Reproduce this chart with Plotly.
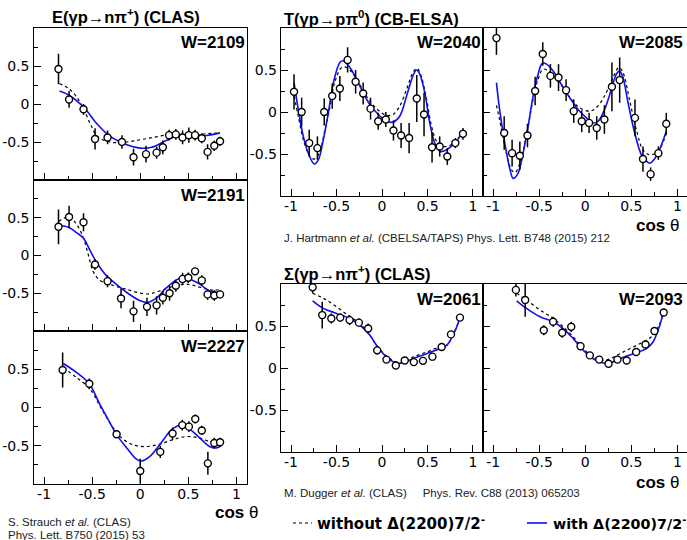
import plotly.graph_objects as go

W, H = 687, 540

# ---------------- E(gamma p -> n pi+) CLAS ----------------
e1_w = "W=2109"
e1_x = [-0.85, -0.74, -0.59, -0.47, -0.34, -0.19, -0.07, 0.06, 0.17, 0.235, 0.30, 0.37, 0.44, 0.505, 0.57, 0.64, 0.70, 0.77, 0.83]
e1_y = [0.46, 0.06, -0.07, -0.46, -0.44, -0.50, -0.70, -0.66, -0.64, -0.57, -0.41, -0.40, -0.44, -0.41, -0.41, -0.45, -0.63, -0.55, -0.49]
e1_err = [0.20, 0.11, 0.07, 0.14, 0.09, 0.09, 0.11, 0.11, 0.08, 0.09, 0.07, 0.07, 0.09, 0.10, 0.07, 0.065, 0.10, 0.07, 0.06]
e1_with_x = [-0.84, -0.74, -0.59, -0.45, -0.32, -0.14, 0.0, 0.12, 0.27, 0.41, 0.55, 0.69, 0.83]
e1_with_y = [0.17, 0.115, -0.04, -0.26, -0.42, -0.535, -0.58, -0.57, -0.48, -0.415, -0.415, -0.415, -0.38]
e1_wo_x = [-0.84, -0.74, -0.66, -0.59, -0.52, -0.45, -0.32, -0.14, 0.0, 0.135, 0.27, 0.41, 0.55, 0.69, 0.83]
e1_wo_y = [0.27, 0.20, 0.09, -0.06, -0.26, -0.42, -0.50, -0.50, -0.47, -0.44, -0.41, -0.415, -0.41, -0.39, -0.38]

e2_w = "W=2191"
e2_x = [-0.85, -0.74, -0.59, -0.47, -0.34, -0.20, -0.07, 0.07, 0.17, 0.235, 0.305, 0.37, 0.44, 0.50, 0.57, 0.64, 0.70, 0.77, 0.83]
e2_y = [0.38, 0.51, 0.44, -0.12, -0.34, -0.57, -0.74, -0.68, -0.66, -0.56, -0.50, -0.40, -0.31, -0.295, -0.21, -0.33, -0.515, -0.53, -0.515]
e2_err = [0.23, 0.15, 0.12, 0.07, 0.08, 0.13, 0.14, 0.12, 0.12, 0.09, 0.10, 0.08, 0.08, 0.07, 0.05, 0.07, 0.07, 0.07, 0.05]
e2_with_x = [-0.85, -0.74, -0.66, -0.59, -0.52, -0.45, -0.35, -0.25, -0.14, 0.0, 0.08, 0.17, 0.27, 0.38, 0.45, 0.53, 0.62, 0.72, 0.83]
e2_with_y = [0.40, 0.37, 0.30, 0.23, 0.06, -0.10, -0.27, -0.38, -0.49, -0.60, -0.62, -0.56, -0.43, -0.32, -0.295, -0.32, -0.38, -0.47, -0.49]
e2_wo_x = [-0.85, -0.74, -0.66, -0.59, -0.54, -0.49, -0.42, -0.32, -0.14, 0.07, 0.20, 0.34, 0.48, 0.62, 0.76, 0.83]
e2_wo_y = [0.45, 0.51, 0.41, 0.23, 0.01, -0.21, -0.33, -0.38, -0.45, -0.51, -0.47, -0.41, -0.38, -0.42, -0.46, -0.45]

e3_w = "W=2227"
e3_x = [-0.807, -0.53, -0.246, 0.0, 0.208, 0.336, 0.437, 0.506, 0.572, 0.64, 0.703, 0.77, 0.83]
e3_y = [0.49, 0.31, -0.35, -0.83, -0.58, -0.34, -0.23, -0.25, -0.15, -0.30, -0.73, -0.465, -0.455]
e3_err = [0.23, 0.07, 0.05, 0.16, 0.08, 0.08, 0.07, 0.07, 0.06, 0.06, 0.15, 0.07, 0.06]
e3_with_x = [-0.80, -0.66, -0.53, -0.42, -0.315, -0.246, -0.14, -0.04, 0.014, 0.10, 0.20, 0.31, 0.38, 0.43, 0.52, 0.62, 0.72, 0.78, 0.83]
e3_with_y = [0.575, 0.455, 0.31, 0.04, -0.20, -0.355, -0.53, -0.675, -0.70, -0.64, -0.49, -0.31, -0.245, -0.235, -0.29, -0.40, -0.51, -0.53, -0.51]
e3_wo_x = [-0.80, -0.66, -0.52, -0.42, -0.315, -0.21, -0.07, 0.066, 0.20, 0.34, 0.48, 0.62, 0.76, 0.83]
e3_wo_y = [0.52, 0.39, 0.24, 0.02, -0.20, -0.38, -0.49, -0.51, -0.48, -0.42, -0.38, -0.40, -0.465, -0.465]

# ---------------- T(gamma p -> p pi0) CB-ELSA ----------------
t1_w = "W=2040"
t1_x = [-0.967, -0.883, -0.80, -0.71, -0.635, -0.547, -0.463, -0.378, -0.29, -0.207, -0.126, -0.042, 0.042, 0.126, 0.21, 0.298, 0.382, 0.462, 0.55, 0.634, 0.718, 0.806, 0.89]
t1_y = [0.24, 0.0, -0.37, -0.43, 0.0, 0.19, 0.28, 0.62, 0.36, 0.22, 0.04, -0.11, -0.09, -0.22, -0.28, -0.31, 0.16, -0.03, -0.42, -0.41, -0.53, -0.37, -0.26]
t1_err = [0.21, 0.17, 0.16, 0.14, 0.16, 0.15, 0.15, 0.15, 0.14, 0.13, 0.13, 0.10, 0.09, 0.12, 0.15, 0.18, 0.28, 0.26, 0.18, 0.12, 0.10, 0.06, 0.07]
t1_with_x = [-0.967, -0.92, -0.865, -0.81, -0.744, -0.70, -0.645, -0.59, -0.534, -0.463, -0.426, -0.353, -0.28, -0.207, -0.134, -0.04, 0.05, 0.12, 0.195, 0.27, 0.34, 0.38, 0.415, 0.47, 0.525, 0.58, 0.64, 0.71, 0.80, 0.89]
t1_with_y = [0.35, 0.03, -0.29, -0.49, -0.62, -0.57, -0.33, -0.01, 0.35, 0.59, 0.61, 0.53, 0.39, 0.23, 0.09, -0.03, -0.11, -0.12, -0.05, 0.19, 0.43, 0.50, 0.45, 0.23, -0.13, -0.37, -0.47, -0.45, -0.37, -0.23]
t1_wo_x = [-0.967, -0.92, -0.865, -0.79, -0.744, -0.69, -0.627, -0.57, -0.52, -0.444, -0.39, -0.316, -0.225, -0.134, -0.04, 0.05, 0.12, 0.195, 0.27, 0.34, 0.385, 0.43, 0.49, 0.545, 0.60, 0.67, 0.76, 0.89]
t1_wo_y = [0.19, -0.05, -0.33, -0.53, -0.56, -0.49, -0.21, 0.07, 0.35, 0.53, 0.53, 0.45, 0.29, 0.13, 0.02, -0.04, -0.03, 0.07, 0.27, 0.47, 0.52, 0.43, 0.15, -0.17, -0.35, -0.41, -0.39, -0.25]

t2_w = "W=2085"
t2_x = [-0.964, -0.88, -0.794, -0.71, -0.627, -0.544, -0.461, -0.378, -0.29, -0.208, -0.125, -0.038, 0.042, 0.125, 0.208, 0.29, 0.374, 0.54, 0.627, 0.71, 0.794, 0.88]
t2_y = [0.88, -0.25, -0.49, -0.52, -0.28, 0.25, 0.69, 0.43, 0.41, 0.26, 0.01, -0.11, -0.13, -0.19, -0.09, 0.30, 0.38, -0.07, -0.56, -0.74, -0.49, -0.14]
t2_err = [0.20, 0.20, 0.16, 0.17, 0.14, 0.17, 0.14, 0.14, 0.16, 0.13, 0.14, 0.13, 0.12, 0.14, 0.17, 0.29, 0.27, 0.22, 0.15, 0.08, 0.08, 0.13]
t2_with_x = [-0.964, -0.93, -0.873, -0.82, -0.783, -0.73, -0.675, -0.62, -0.566, -0.512, -0.465, -0.42, -0.35, -0.26, -0.168, -0.078, 0.013, 0.085, 0.14, 0.21, 0.284, 0.338, 0.374, 0.41, 0.465, 0.537, 0.61, 0.646, 0.70, 0.77, 0.88]
t2_with_y = [0.35, 0.03, -0.37, -0.67, -0.79, -0.73, -0.49, -0.17, 0.19, 0.45, 0.58, 0.57, 0.49, 0.33, 0.17, 0.03, -0.07, -0.13, -0.11, 0.03, 0.27, 0.45, 0.49, 0.41, 0.11, -0.25, -0.51, -0.56, -0.61, -0.53, -0.23]
t2_wo_x = [-0.964, -0.93, -0.873, -0.80, -0.76, -0.71, -0.64, -0.566, -0.512, -0.458, -0.40, -0.33, -0.24, -0.15, -0.06, 0.05, 0.12, 0.21, 0.30, 0.367, 0.41, 0.48, 0.555, 0.627, 0.70, 0.79, 0.88]
t2_wo_y = [0.08, -0.09, -0.41, -0.69, -0.72, -0.61, -0.29, 0.15, 0.39, 0.51, 0.49, 0.41, 0.29, 0.15, 0.05, 0.01, 0.05, 0.19, 0.41, 0.53, 0.47, 0.15, -0.21, -0.45, -0.51, -0.47, -0.25]

# ---------------- Sigma(gamma p -> n pi+) CLAS ----------------
s1_w = "W=2061"
s1_x = [-0.762, -0.657, -0.557, -0.459, -0.356, -0.254, -0.152, -0.053, 0.049, 0.152, 0.25, 0.35, 0.45, 0.554, 0.656, 0.758, 0.857]
s1_y = [0.96, 0.63, 0.59, 0.60, 0.57, 0.54, 0.47, 0.21, 0.10, 0.03, 0.09, 0.07, 0.085, 0.135, 0.25, 0.40, 0.60]
s1_err = [0.07, 0.16, 0.06, 0.05, 0.06, 0.05, 0.06, 0.05, 0.04, 0.04, 0.03, 0.03, 0.03, 0.03, 0.03, 0.03, 0.03]
s1_with_x = [-0.762, -0.645, -0.50, -0.353, -0.243, -0.133, -0.06, 0.05, 0.16, 0.23, 0.34, 0.49, 0.63, 0.71, 0.78, 0.836, 0.86]
s1_with_y = [0.80, 0.71, 0.65, 0.59, 0.51, 0.39, 0.27, 0.13, 0.06, 0.06, 0.11, 0.17, 0.23, 0.27, 0.39, 0.53, 0.63]
s1_wo_x = [-0.762, -0.645, -0.50, -0.353, -0.243, -0.133, -0.06, 0.05, 0.16, 0.23, 0.34, 0.49, 0.63, 0.71, 0.78, 0.86]
s1_wo_y = [0.89, 0.83, 0.73, 0.61, 0.53, 0.39, 0.27, 0.14, 0.07, 0.07, 0.13, 0.19, 0.25, 0.27, 0.39, 0.61]

s2_w = "W=2093"
s2_x = [-0.753, -0.652, -0.45, -0.349, -0.25, -0.152, -0.051, 0.05, 0.152, 0.253, 0.35, 0.45, 0.553, 0.654, 0.752, 0.852]
s2_y = [0.93, 0.81, 0.45, 0.55, 0.42, 0.49, 0.26, 0.15, 0.10, 0.05, 0.10, 0.09, 0.19, 0.28, 0.44, 0.66]
s2_err = [0.08, 0.20, 0.06, 0.06, 0.06, 0.06, 0.05, 0.04, 0.04, 0.03, 0.03, 0.03, 0.03, 0.03, 0.03, 0.03]
s2_with_x = [-0.745, -0.638, -0.49, -0.347, -0.24, -0.13, -0.02, 0.087, 0.196, 0.27, 0.376, 0.52, 0.665, 0.736, 0.81, 0.845]
s2_with_y = [0.80, 0.71, 0.61, 0.55, 0.47, 0.35, 0.21, 0.11, 0.06, 0.06, 0.11, 0.17, 0.23, 0.31, 0.51, 0.65]
s2_wo_x = [-0.745, -0.638, -0.49, -0.347, -0.24, -0.13, -0.02, 0.087, 0.196, 0.27, 0.376, 0.52, 0.665, 0.736, 0.81, 0.845]
s2_wo_y = [0.89, 0.81, 0.69, 0.59, 0.49, 0.37, 0.23, 0.13, 0.09, 0.11, 0.17, 0.25, 0.33, 0.39, 0.53, 0.65]

x_ticks = [-1, -0.5, 0, 0.5, 1]
x_ticktext = ["-1", "-0.5", "0", "0.5", "1"]
y_ticks = [-0.5, 0, 0.5]
y_ticktext = ["-0.5", "0", "0.5"]
minor_ticks = [-0.75, -0.25, 0.25, 0.75]

BLUE = "#1010f0"

# panel pixel boxes: (left, top, right, bottom)
panels = [
    dict(box=(33.5, 28, 247, 180), xr=[-1.11, 1.11], xl=False, yl=True, w=e1_w,
         d=(e1_x, e1_y, e1_err), c1=(e1_wo_x, e1_wo_y), c2=(e1_with_x, e1_with_y)),
    dict(box=(33.5, 180, 247, 331), xr=[-1.11, 1.11], xl=False, yl=True, w=e2_w,
         d=(e2_x, e2_y, e2_err), c1=(e2_wo_x, e2_wo_y), c2=(e2_with_x, e2_with_y)),
    dict(box=(33.5, 331, 247, 484), xr=[-1.11, 1.11], xl=True, yl=True, w=e3_w,
         d=(e3_x, e3_y, e3_err), c1=(e3_wo_x, e3_wo_y), c2=(e3_with_x, e3_with_y)),
    dict(box=(281, 28, 483, 196), xr=[-1.11, 1.11], xl=True, yl=True, w=t1_w,
         d=(t1_x, t1_y, t1_err), c1=(t1_wo_x, t1_wo_y), c2=(t1_with_x, t1_with_y)),
    dict(box=(483, 28, 687, 196), xr=[-1.11, 1.105], xl=True, yl=False, w=t2_w,
         d=(t2_x, t2_y, t2_err), c1=(t2_wo_x, t2_wo_y), c2=(t2_with_x, t2_with_y)),
    dict(box=(281, 284, 483, 452), xr=[-1.11, 1.11], xl=True, yl=True, w=s1_w,
         d=(s1_x, s1_y, s1_err), c1=(s1_wo_x, s1_wo_y), c2=(s1_with_x, s1_with_y)),
    dict(box=(483, 284, 687, 452), xr=[-1.11, 1.105], xl=True, yl=False, w=s2_w,
         d=(s2_x, s2_y, s2_err), c1=(s2_wo_x, s2_wo_y), c2=(s2_with_x, s2_with_y)),
]

fig = go.Figure()
layout = {}
annotations = []
TICKFONT = dict(family="DejaVu Sans", size=14, color="black")

for i, p in enumerate(panels, start=1):
    L, T, R, B = p["box"]
    xa = "x" if i == 1 else f"x{i}"
    ya = "y" if i == 1 else f"y{i}"
    xkey = "xaxis" if i == 1 else f"xaxis{i}"
    ykey = "yaxis" if i == 1 else f"yaxis{i}"
    layout[xkey] = dict(
        domain=[L / W, R / W], range=p["xr"], anchor=ya,
        showgrid=False, zeroline=False, showline=True, mirror=True,
        linecolor="black", linewidth=1.4,
        ticks="inside", ticklen=7, tickwidth=1, tickcolor="black",
        tickmode="array", tickvals=x_ticks, ticktext=x_ticktext,
        showticklabels=p["xl"], tickfont=TICKFONT, ticklabelstandoff=-3,
        minor=dict(ticks="inside", ticklen=4, tickcolor="black", tickmode="array",
                   tickvals=minor_ticks, showgrid=False),
    )
    layout[ykey] = dict(
        domain=[1 - B / H, 1 - T / H], range=[-1.0, 1.0], anchor=xa,
        showgrid=False, zeroline=False, showline=True, mirror=True,
        linecolor="black", linewidth=1.4,
        ticks="inside", ticklen=7, tickwidth=1, tickcolor="black",
        tickmode="array", tickvals=y_ticks, ticktext=y_ticktext,
        showticklabels=p["yl"], tickfont=TICKFONT,
        minor=dict(ticks="inside", ticklen=4, tickcolor="black", tickmode="array",
                   tickvals=minor_ticks, showgrid=False),
    )
    cx, cy = p["c1"]
    fig.add_trace(go.Scatter(x=cx, y=cy, mode="lines", xaxis=xa, yaxis=ya, showlegend=False,
                             line=dict(color="black", width=1.2, dash="dot", shape="spline", smoothing=1.0)))
    cx, cy = p["c2"]
    fig.add_trace(go.Scatter(x=cx, y=cy, mode="lines", xaxis=xa, yaxis=ya, showlegend=False,
                             line=dict(color=BLUE, width=1.6, shape="spline", smoothing=1.0)))
    dx, dy, de = p["d"]
    fig.add_trace(go.Scatter(x=dx, y=dy, mode="markers", xaxis=xa, yaxis=ya, showlegend=False,
                             error_y=dict(type="data", array=de, visible=True, color="black",
                                          thickness=1.5, width=0),
                             marker=dict(symbol="circle", size=7, color="white",
                                         line=dict(color="black", width=1.4))))
    annotations.append(dict(text="<b>" + p["w"] + "</b>", x=(min(R, 685)) / W, y=1 - (T + 15) / H,
                            xref="paper", yref="paper", xanchor="right", yanchor="middle",
                            showarrow=False,
                            font=dict(family="Liberation Sans", size=17, color="black")))

TITLEFONT = dict(family="Liberation Sans", size=16.5, color="black")
SMALL = dict(family="Liberation Sans", size=11.5, color="#222222")

def ann(text, x, y, font, xanchor="left"):
    annotations.append(dict(text=text, x=x / W, y=1 - y / H, xref="paper", yref="paper",
                            xanchor=xanchor, yanchor="middle", showarrow=False, font=font))

ann("<b>E(γp→nπ<sup>+</sup>) (CLAS)</b>", 126, 16, TITLEFONT, "center")
ann("<b>T(γp→pπ<sup>0</sup>) (CB-ELSA)</b>", 282, 18, TITLEFONT)
ann("<b>Σ(γp→nπ<sup>+</sup>) (CLAS)</b>", 282, 273, TITLEFONT)

COSFONT = dict(family="Liberation Sans", size=17, color="black")
ann("<b>cos</b> θ", 260, 512, COSFONT, "right")
ann("<b>cos</b> θ", 681, 225, COSFONT, "right")
ann("<b>cos</b> θ", 681, 482, COSFONT, "right")

ann("J. Hartmann <i>et al.</i> (CBELSA/TAPS) Phys. Lett. B748 (2015) 212", 282, 238, SMALL)
ann("M. Dugger <i>et al.</i> (CLAS)     Phys. Rev. C88 (2013) 065203", 282, 493, SMALL)
ann("S. Strauch <i>et al.</i> (CLAS)", 6, 522, SMALL)
ann("Phys. Lett. B750 (2015) 53", 6, 535, SMALL)

ann("<b>without Δ(2200)7/2<sup>-</sup></b>", 315, 523, dict(family="DejaVu Sans", size=15, color="black"))
ann("<b>with Δ(2200)7/2<sup>-</sup></b>", 551, 523, dict(family="DejaVu Sans", size=14.3, color="black"))

shapes = [
    dict(type="line", xref="paper", yref="paper", x0=293 / W, x1=312 / W, y0=1 - 523 / H, y1=1 - 523 / H,
         line=dict(color="black", width=1.2, dash="dot")),
    dict(type="line", xref="paper", yref="paper", x0=527 / W, x1=547 / W, y0=1 - 523 / H, y1=1 - 523 / H,
         line=dict(color=BLUE, width=1.6)),
]

fig.update_layout(**layout)
fig.update_layout(width=W, height=H, margin=dict(l=0, r=0, t=0, b=0),
                  paper_bgcolor="white", plot_bgcolor="white",
                  annotations=annotations, shapes=shapes, showlegend=False)

fig.write_html("out.html")
